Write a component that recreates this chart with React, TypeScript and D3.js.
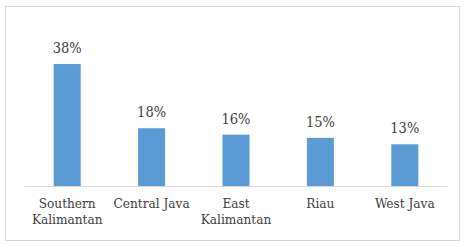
import { scaleBand, scaleLinear } from "d3";

const categories = ["Southern\nKalimantan", "Central Java", "East\nKalimantan", "Riau", "West Java"];
const values = [38, 18, 16, 15, 13];

const W = 471;
const H = 246;

export default function App() {
  const x = scaleBand<string>().domain(categories).range([25, 447]).paddingInner(0.68).paddingOuter(0.34);
  const y = scaleLinear().domain([0, 40]).range([186, 57.6]);

  return (
    <svg
      width={W}
      height={H}
      style={{
        position: "absolute",
        left: 0,
        top: 0,
        background: "#fff",
        fontFamily: "'DejaVu Serif Condensed', 'DejaVu Serif', serif",
        fontStretch: "condensed",
      }}
    >
      <rect x={5.5} y={6.5} width={454} height={234} fill="#fff" stroke="#d9d9d9" />
      {/* barras */}
      {categories.map((c, i) => (
        <g key={c}>
          <rect x={x(c)} y={y(values[i])} width={x.bandwidth()} height={y(0) - y(values[i])} fill="#5b9bd5" />
          <text
            x={(x(c) ?? 0) + x.bandwidth() / 2}
            y={y(values[i]) - 11}
            textAnchor="middle"
            fontSize={14.5}
            fill="#404040"
          >
            {values[i]}%
          </text>
        </g>
      ))}
      <line x1={25} x2={447} y1={186.5} y2={186.5} stroke="#d9d9d9" />
      {/* etiquetas del eje X */}
      {categories.map((c) => (
        <text key={c} textAnchor="middle" fontSize={13.5} fill="#404040">
          {c.split("\n").map((t, j) => (
            <tspan key={j} x={(x(c) ?? 0) + x.bandwidth() / 2} y={208 + j * 16}>
              {t}
            </tspan>
          ))}
        </text>
      ))}
    </svg>
  );
}
